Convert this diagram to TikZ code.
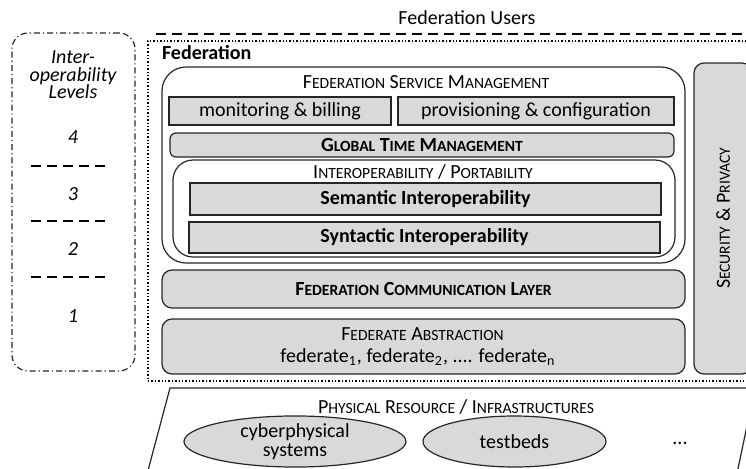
\documentclass[tikz,border=0pt]{standalone}
\usepackage{fontspec}
\setmainfont{Carlito}
\usetikzlibrary{shapes.geometric}
\usepackage{xcolor}
\definecolor{boxgray}{RGB}{217,217,217}

% poor man's small caps: capitals at the x-height-ish size
\newcommand{\smc}[1]{{\fontsize{7.8}{9}\selectfont #1}}

\begin{document}
\begin{tikzpicture}[
  x=0.5pt,y=-0.5pt,font=\fontsize{10}{12}\selectfont,
  frame/.style={draw=black!85, line width=0.6pt, inner sep=0pt},
  wbox/.style={frame, fill=white, rounded corners=12pt},
  gbox/.style={frame, fill=boxgray},
  rbox/.style={gbox, rounded corners=5pt},
  blob/.style={frame, fill=boxgray, ellipse, align=center,
    font=\fontsize{10}{9.5}\selectfont},
  lvlrule/.style={line width=1pt, dash pattern=on 5pt off 3pt},
  lvl/.style={font=\fontsize{10}{8.75}\selectfont\itshape, align=center}
]
  \useasboundingbox (0,0) rectangle (746,468);
  \clip (0,0) rectangle (746,468);

  % users on top
  \node (users) at (467,18) {Federation Users};
  \draw[lvlrule] (156,34) -- (760,34);

  % interoperability levels
  \node[frame, dash pattern=on 3pt off 1.5pt on 0.6pt off 1.5pt,
    rounded corners=8pt, minimum width=61.5pt, minimum height=169pt]
    (lvlbox) at (73.5,202) {};
  \node[lvl] (lvltitle) at (73,75) {Inter-\\operability\\Levels};
  \foreach \n/\y in {4/137,3/194,2/249,1/316}
    \node[lvl] (lvl\n) at (73,\y) {\n};
  \foreach \y in {166,221,277}
    \draw[lvlrule] (31,\y) -- (106,\y);

  % federation
  \node[draw=black, densely dotted, line width=0.7pt, minimum width=306pt,
    minimum height=170pt] (fed) at (454,211) {};
  \node[font=\bfseries, anchor=west] (fedlabel) at (155,53) {Federation};

  \node[wbox, minimum width=261.5pt, minimum height=98pt] (fsm) at (423.5,165) {};
  \node (fsmtitle) at (426,82)
    {F\smc{EDERATION} S\smc{ERVICE} M\smc{ANAGEMENT}};
  \node[gbox, minimum width=111pt, minimum height=14pt] (mon) at (280,111)
    {monitoring \& billing};
  \node[gbox, minimum width=138pt, minimum height=14pt] (prov) at (536,111)
    {provisioning \& configuration};
  \node[gbox, rounded corners=3pt, minimum width=252pt, minimum height=12pt]
    (gtm) at (422,145) {\bfseries G\smc{LOBAL} T\smc{IME} M\smc{ANAGEMENT}};

  \node[wbox, rounded corners=10pt, minimum width=251pt, minimum height=48.5pt]
    (iop) at (424,208.5) {};
  \node (ioptitle) at (423,172)
    {I\smc{NTEROPERABILITY} / P\smc{ORTABILITY}};
  \node[gbox, minimum width=235.5pt, minimum height=16pt] (sem) at (425.5,199)
    {\bfseries Semantic Interoperability};
  \node[gbox, minimum width=235.5pt, minimum height=15.5pt] (syn) at (424.5,237.5)
    {\bfseries Syntactic Interoperability};

  \node[rbox, minimum width=261.5pt, minimum height=19pt] (fcl) at (423.5,289)
    {\bfseries F\smc{EDERATION} C\smc{OMMUNICATION} L\smc{AYER}};
  \node[rbox, minimum width=261.5pt, minimum height=27.5pt] (fab) at (423.5,346.5) {};
  \node (fabtitle) at (422.5,334) {F\smc{EDERATE} A\smc{BSTRACTION}};
  \node (fabitems) at (418,357)
    {federate\textsubscript{1}, federate\textsubscript{2}, .... federate\textsubscript{n}};

  \node[rbox, minimum width=29pt, minimum height=155.5pt] (sec) at (723,218.5) {};
  \node[rotate=90] (sectext) at (sec.center) {S\smc{ECURITY} \& P\smc{RIVACY}};

  % physical layer
  \draw[black!85, line width=0.6pt] (146,478) -- (170,388) -- (755,388) -- (736,478);
  \node (phys) at (456,407)
    {P\smc{HYSICAL} R\smc{ESOURCE} / I\smc{NFRASTRUCTURES}};
  \node[blob, minimum width=111pt, minimum height=25.5pt] (cps) at (295,441.5)
    {cyberphysical\\systems};
  \node[blob, minimum width=91.5pt, minimum height=25.5pt] (tb) at (514.5,441.5)
    {testbeds};
  \node (more) at (680,443) {...};
\end{tikzpicture}
\end{document}
